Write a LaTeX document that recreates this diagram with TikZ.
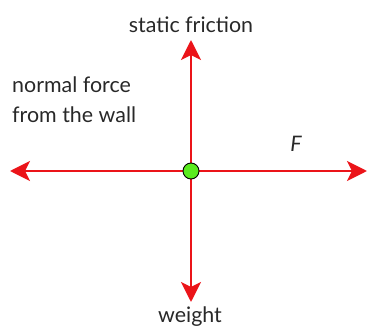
\documentclass[tikz,border=0pt]{standalone}
\usepackage{fontspec}
\setmainfont{Lato}
\usetikzlibrary{arrows.meta}
\definecolor{vred}{RGB}{235,20,25}
\definecolor{dotgreen}{RGB}{90,235,30}
\definecolor{txt}{RGB}{40,40,40}
\tikzset{
  force/.style={vred, line width=2.6pt, -{Stealth[length=20pt,width=20pt,inset=5pt]}},
  lbl/.style={text=txt, font=\fontsize{21.4}{30}\selectfont, inner sep=0pt},
}
\begin{document}
\begin{tikzpicture}[x=1pt,y=-1pt]
\useasboundingbox (0,0) rectangle (368,329);
\coordinate (c) at (191,171);
\coordinate (top) at (191,40);
\coordinate (bot) at (191,302);
\coordinate (left) at (10,171);
\coordinate (right) at (367,171);
\draw[force] (c) -- (top);
\draw[force] (c) -- (bot);
\draw[force] (c) -- (left);
\draw[force] (c) -- (right);
\node[circle, draw=black, line width=0.9pt, fill=dotgreen, minimum size=16pt, inner sep=0pt] (dot) at (c) {};
\node[lbl, anchor=base] (sf) at (191,33) {static friction};
\node[lbl, anchor=base] (w) at (190,323) {weight};
\node[lbl, anchor=base west, align=left] (nf) at (12,123) {normal force\\from the wall};
\node[lbl, anchor=base] (F) at (296,152) {\itshape F};
\end{tikzpicture}
\end{document}
